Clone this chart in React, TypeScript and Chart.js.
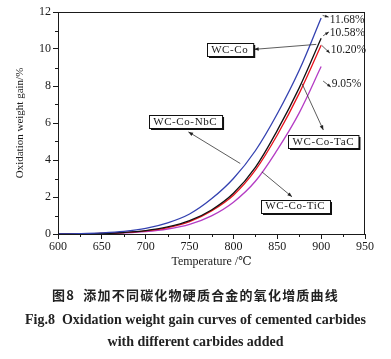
import React, { useEffect, useRef } from "react";
import { Chart, registerables } from "chart.js";

Chart.register(...registerables);

// ---- Data ----
const temperatures = [600, 625, 650, 675, 700, 725, 750, 775, 800, 825, 850, 875, 900];
const wcCoNbC = [0, 0.02, 0.06, 0.14, 0.3, 0.6, 1.08, 1.9, 3.0, 4.5, 6.5, 8.85, 11.68];
const wcCo = [0, 0.01, 0.03, 0.08, 0.18, 0.38, 0.72, 1.3, 2.2, 3.6, 5.6, 7.9, 10.58];
const wcCoTaC = [0, 0.01, 0.03, 0.08, 0.17, 0.35, 0.67, 1.25, 2.1, 3.45, 5.35, 7.6, 10.2];
const wcCoTiC = [0, 0.01, 0.02, 0.06, 0.13, 0.27, 0.52, 0.98, 1.72, 2.85, 4.55, 6.55, 9.05];

const seriesNames = ["WC-Co-NbC", "WC-Co", "WC-Co-TaC", "WC-Co-TiC"];
const seriesValues = [wcCoNbC, wcCo, wcCoTaC, wcCoTiC];
const seriesColors = ["#3341b0", "#111111", "#e8121c", "#b43cc4"];

const xTickValues = [600, 650, 700, 750, 800, 850, 900, 950];
const xMinorTicks = [625, 675, 725, 775, 825, 875, 925];
const yTickValues = [0, 2, 4, 6, 8, 10, 12];
const yMinorTicks = [1, 3, 5, 7, 9, 11];

const xTitle = "Temperature /℃";
const yTitle = "Oxidation weight gain/%";
const captionCn = "图8  添加不同碳化物硬质合金的氧化增质曲线";
const captionEn1 = "Fig.8  Oxidation weight gain curves of cemented carbides";
const captionEn2 = "with different carbides added";

// ---- Annotation layout (data units for anchor points) ----
const boxAnchors = [
  { name: "WC-Co", x: 795.8, y: 9.95 },
  { name: "WC-Co-NbC", x: 745, y: 6.07 },
  { name: "WC-Co-TaC", x: 902.5, y: 4.99 },
  { name: "WC-Co-TiC", x: 870.5, y: 1.51 },
];
const boxArrows = [
  { from: [894.5, 10.25], to: [823.5, 9.98] },
  { from: [807.8, 3.81], to: [748.7, 5.52] },
  { from: [878.2, 8.13], to: [902.5, 5.62] },
  { from: [832.5, 3.36], to: [866.8, 2.01] },
];
// pixel offsets from each series' last point: label position & small arrow
const endLabelOffsets = [
  { label: [8.5, 2], a0: [1.5, -2.5], a1: [7.5, -0.8] },
  { label: [8.5, -5.7], a0: [2, -2.5], a1: [7.7, -6.3] },
  { label: [9.5, 5.1], a0: [0.5, 0], a1: [8.7, 7.8] },
  { label: [10.5, 17.8], a0: [2, 14.5], a1: [9.7, 20.5] },
];

const SERIF = "'Liberation Serif', 'Times New Roman', 'DejaVu Serif', serif";
const INK = "#1a1a1a";

function drawArrow(ctx: CanvasRenderingContext2D, x1: number, y1: number, x2: number, y2: number, head: number) {
  ctx.beginPath();
  ctx.moveTo(x1, y1);
  ctx.lineTo(x2, y2);
  ctx.stroke();
  const a = Math.atan2(y2 - y1, x2 - x1);
  ctx.beginPath();
  ctx.moveTo(x2, y2);
  ctx.lineTo(x2 - head * Math.cos(a - 0.38), y2 - head * Math.sin(a - 0.38));
  ctx.lineTo(x2 - head * Math.cos(a + 0.38), y2 - head * Math.sin(a + 0.38));
  ctx.closePath();
  ctx.fill();
}

const decorPlugin = {
  id: "decor",
  afterDraw(chart: any) {
    const { ctx, chartArea, scales } = chart;
    const xs = scales.x;
    const ys = scales.y;
    ctx.save();
    // frame
    ctx.strokeStyle = INK;
    ctx.lineWidth = 1;
    ctx.strokeRect(chartArea.left + 0.5, chartArea.top + 0.5, chartArea.right - chartArea.left - 1, chartArea.bottom - chartArea.top);
    // minor ticks
    ctx.beginPath();
    xMinorTicks.forEach((v) => {
      const px = Math.round(xs.getPixelForValue(v)) + 0.5;
      ctx.moveTo(px, chartArea.bottom);
      ctx.lineTo(px, chartArea.bottom + 3);
    });
    yMinorTicks.forEach((v) => {
      const py = Math.round(ys.getPixelForValue(v)) + 0.5;
      ctx.moveTo(chartArea.left, py);
      ctx.lineTo(chartArea.left - 3, py);
    });
    ctx.stroke();

    // box annotation arrows
    ctx.strokeStyle = "#333";
    ctx.fillStyle = "#222";
    ctx.lineWidth = 0.8;
    boxArrows.forEach((ar) => {
      drawArrow(
        ctx,
        xs.getPixelForValue(ar.from[0]),
        ys.getPixelForValue(ar.from[1]),
        xs.getPixelForValue(ar.to[0]),
        ys.getPixelForValue(ar.to[1]),
        5
      );
    });

    // boxes
    ctx.font = `11px ${SERIF}`;
    (ctx as any).letterSpacing = "0.6px";
    ctx.textAlign = "center";
    ctx.textBaseline = "middle";
    boxAnchors.forEach((b) => {
      const cx = xs.getPixelForValue(b.x);
      const cy = ys.getPixelForValue(b.y);
      const w = ctx.measureText(b.name).width + 9;
      const h = 13;
      const l = Math.round(cx - w / 2) + 0.5;
      const t = Math.round(cy - h / 2) + 0.5;
      ctx.fillStyle = "#111";
      ctx.fillRect(l + 1.5, t + 1.5, w, h);
      ctx.fillStyle = "#fff";
      ctx.fillRect(l, t, w, h);
      ctx.strokeStyle = "#111";
      ctx.lineWidth = 1;
      ctx.strokeRect(l, t, w, h);
      ctx.fillStyle = INK;
      ctx.fillText(b.name, cx, cy + 0.5);
    });
    (ctx as any).letterSpacing = "0px";

    // end value labels
    ctx.font = `11.5px ${SERIF}`;
    ctx.textAlign = "left";
    ctx.textBaseline = "middle";
    seriesValues.forEach((vals, i) => {
      const last = vals.length - 1;
      const ex = xs.getPixelForValue(temperatures[last]);
      const ey = ys.getPixelForValue(vals[last]);
      const o = endLabelOffsets[i];
      ctx.strokeStyle = "#333";
      ctx.fillStyle = "#222";
      ctx.lineWidth = 0.8;
      drawArrow(ctx, ex + o.a0[0], ey + o.a0[1], ex + o.a1[0], ey + o.a1[1], 4);
      ctx.fillStyle = INK;
      ctx.fillText(`${vals[last].toFixed(2)}%`, ex + o.label[0], ey + o.label[1]);
    });
    ctx.restore();
  },
};

export default function App() {
  const canvasRef = useRef<HTMLCanvasElement | null>(null);

  useEffect(() => {
    const canvas = canvasRef.current;
    if (!canvas) return;
    const chart = new Chart(canvas, {
      type: "line",
      data: {
        datasets: seriesValues.map((vals, i) => ({
          label: seriesNames[i],
          data: temperatures.map((t, j) => ({ x: t, y: vals[j] })),
          borderColor: seriesColors[i],
          backgroundColor: seriesColors[i],
          borderWidth: 1.3,
          pointRadius: 0,
          tension: 0.35,
          fill: false,
        })),
      },
      options: {
        responsive: false,
        animation: false,
        events: [],
        layout: { padding: { left: 0, right: 26, top: 12, bottom: 87 } },
        plugins: {
          legend: { display: false },
          tooltip: { enabled: false },
          title: { display: false },
        },
        scales: {
          x: {
            type: "linear",
            min: 600,
            max: 950,
            afterBuildTicks: (s: any) => {
              s.ticks = xTickValues.map((v) => ({ value: v }));
            },
            afterFit: (s: any) => {
              s.height = 38;
            },
            grid: { drawOnChartArea: false, drawTicks: true, tickLength: 5, color: INK, lineWidth: 1 },
            border: { display: true, color: INK, width: 1 },
            ticks: { color: INK, font: { family: SERIF, size: 12 }, padding: 1, maxRotation: 0, autoSkip: false },
            title: {
              display: true,
              text: xTitle,
              color: INK,
              font: { family: SERIF, size: 12 },
              padding: { top: 0, bottom: 3 },
            },
          },
          y: {
            type: "linear",
            min: 0,
            max: 12,
            afterBuildTicks: (s: any) => {
              s.ticks = yTickValues.map((v) => ({ value: v }));
            },
            afterFit: (s: any) => {
              s.width = 58;
            },
            grid: { drawOnChartArea: false, drawTicks: true, tickLength: 5, color: INK, lineWidth: 1 },
            border: { display: true, color: INK, width: 1 },
            ticks: { color: INK, font: { family: SERIF, size: 12 }, padding: 2, autoSkip: false },
            title: {
              display: true,
              text: yTitle,
              color: INK,
              font: { family: SERIF, size: 11 },
              padding: { top: 14, bottom: 0 },
            },
          },
        },
      },
      plugins: [decorPlugin],
    } as any);
    return () => chart.destroy();
  }, []);

  return (
    <div style={{ position: "absolute", left: 0, top: 0, width: 391, height: 359, background: "#fff", overflow: "hidden" }}>
      <canvas ref={canvasRef} width={391} height={359} style={{ position: "absolute", left: 0, top: 0, width: 391, height: 359 }} />
      <div
        style={{
          position: "absolute",
          left: 0,
          width: 391,
          top: 286,
          textAlign: "center",
          fontFamily: "'Noto Sans CJK SC', sans-serif",
          fontWeight: 700,
          fontSize: 13,
          letterSpacing: "1.2px",
          lineHeight: "18px",
          color: "#222",
          whiteSpace: "pre",
        }}
      >
        {captionCn}
      </div>
      <div
        style={{
          position: "absolute",
          left: 0,
          width: 391,
          top: 309,
          textAlign: "center",
          fontFamily: SERIF,
          fontWeight: 700,
          fontSize: 14,
          lineHeight: "22px",
          color: "#222",
          whiteSpace: "pre",
        }}
      >
        {captionEn1}
        {"\n"}
        {captionEn2}
      </div>
    </div>
  );
}
